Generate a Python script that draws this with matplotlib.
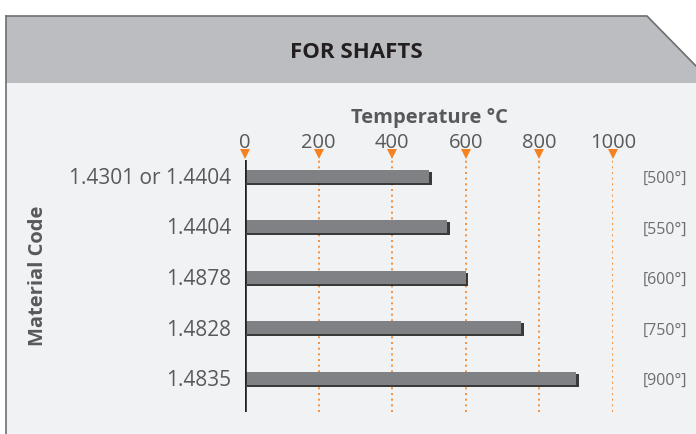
import matplotlib
matplotlib.use("Agg")
import matplotlib.pyplot as plt
from matplotlib.patches import Polygon
from matplotlib.lines import Line2D
import matplotlib.patheffects as pe
import matplotlib.transforms as mtransforms

plt.rcParams['font.family'] = ['Open Sans', 'DejaVu Sans']

title = "FOR SHAFTS"
materials = ["1.4301 or 1.4404", "1.4404", "1.4878", "1.4828", "1.4835"]
temps = [500, 550, 600, 750, 900]
temp_labels = ["[500°]", "[550°]", "[600°]", "[750°]", "[900°]"]
xticks = [0, 200, 400, 600, 800, 1000]
xlabel = "Temperature °C"
ylabel = "Material Code"

W, H = 696, 434
fig = plt.figure(figsize=(W / 100, H / 100), dpi=100)
fig.patch.set_facecolor("white")

def px(x, y):
    return (x / W, 1 - y / H)

# panel background
body = Polygon([px(6, 83), px(696, 83), px(696, 434), px(6, 434)], closed=True,
               transform=fig.transFigure, facecolor="#f1f2f4", edgecolor="none", zorder=-2)
header = Polygon([px(6, 16), px(647, 16), px(696, 66), px(696, 83), px(6, 83)], closed=True,
                 transform=fig.transFigure, facecolor="#bcbdc0", edgecolor="none", zorder=-2)
fig.patches.extend([body, header])
for seg in [[(6, 16), (647, 16), (696, 66)], [(6, 16), (6, 434)]]:
    xs = [px(*p)[0] for p in seg]
    ys = [px(*p)[1] for p in seg]
    fig.lines.append(Line2D(xs, ys, transform=fig.transFigure, color="#6d6e71", lw=1.2, zorder=-1))

fig.text(*px(356, 52), title, ha="center", va="center", fontsize=16, fontweight="bold",
         color="#231f20")

# main axes: x 0..1000 -> px 245..613, y px 160..412
ax = fig.add_axes([245 / W, 1 - 412 / H, 368 / W, 252 / H])
ax.set_zorder(2)
ax.set_facecolor("none")
for s in ax.spines.values():
    s.set_visible(False)

step = 50.5
ytop = -(176 - 160) / step
ybot = 4 + (412 - 378) / step
ax.set_xlim(0, 1000)
ax.set_ylim(ybot, ytop)

ypos = list(range(len(materials)))
bars = ax.barh(ypos, temps, height=13 / step, color="#808184", zorder=3)
for b in bars:
    b.set_path_effects([pe.SimplePatchShadow(offset=(1.8, -1.5), shadow_rgbFace="#1a1a1a", alpha=0.85),
                        pe.Normal()])

# gridlines
for t in xticks[1:]:
    ax.axvline(t, color="#f58220", lw=1.2, ls=(0, (1.2, 2.2)), zorder=2)
ax.axvline(0, color="#231f20", lw=2.6, zorder=4)

# ticks on top
ax.xaxis.set_ticks_position("top")
ax.set_xticks(xticks)
ax.set_xticklabels([str(t) for t in xticks])
ax.tick_params(axis="x", length=0, pad=5, labelsize=14.5, labelcolor="#58595b")
trans = ax.get_xaxis_transform()
ax.plot(xticks, [1.022] * len(xticks), ls="none", marker="v", ms=6.5, color="#f58220",
        transform=trans, clip_on=False, zorder=5, markeredgewidth=0)

ax.xaxis.set_label_position("top")
ax.set_xlabel(xlabel, fontsize=14.5, fontweight="bold", color="#58595b", labelpad=7)

ax.set_yticks(ypos)
ax.set_yticklabels(materials)
ax.tick_params(axis="y", length=0, pad=10, labelsize=15, labelcolor="#58595b")
ax.set_ylabel(ylabel, fontsize=14.5, fontweight="bold", color="#58595b")
ax.yaxis.set_label_coords((48 - 245) / 368, (412 - 276) / 252)

rtrans = mtransforms.blended_transform_factory(ax.transAxes, ax.transData)
for y, lab in zip(ypos, temp_labels):
    ax.text((665 - 245) / 368, y + 0.06, lab, transform=rtrans, ha="center", va="center",
            fontsize=11.5, color="#6d6e71")

fig.savefig("out.png", dpi=100, facecolor="white")
